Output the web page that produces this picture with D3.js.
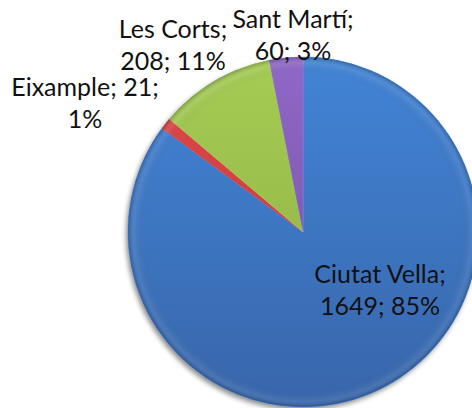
<!DOCTYPE html>
<html>
<head>
<meta charset="utf-8">
<script src="https://cdn.jsdelivr.net/npm/d3@7"></script>
<style>
  html, body { margin: 0; padding: 0; background: #fff; }
  svg { display: block; }
  text { font-family: Lato, "Open Sans", sans-serif; fill: #111; }
</style>
</head>
<body>
<svg width="472" height="408"></svg>
<script>
// data
var districts = ["Ciutat Vella", "Eixample", "Les Corts", "Sant Martí"];
var counts = [1649, 21, 208, 60];
var percents = ["85%", "1%", "11%", "3%"];
var topColors = ["#4284d6", "#e04848", "#a6cc55", "#9068c8"];
var bottomColors = ["#3866ab", "#b83a36", "#8aad3f", "#6f4d9a"];

var width = 472, height = 408;
var cx = 303, cy = 232, radius = 175;

var svg = d3.select("svg");
var defs = svg.append("defs");

// vertical shading for each slice (coords relative to pie centre)
districts.forEach(function(d, i) {
  var g = defs.append("linearGradient")
    .attr("id", "grad" + i)
    .attr("gradientUnits", "userSpaceOnUse")
    .attr("x1", 0).attr("y1", -radius)
    .attr("x2", 0).attr("y2", radius);
  g.append("stop").attr("offset", "0%").attr("stop-color", topColors[i]);
  g.append("stop").attr("offset", "100%").attr("stop-color", bottomColors[i]);
});

// darker rim like the excel bevel
var rim = defs.append("radialGradient")
  .attr("id", "rim")
  .attr("gradientUnits", "userSpaceOnUse")
  .attr("cx", 0).attr("cy", 0).attr("r", radius);
rim.append("stop").attr("offset", "0.9").attr("stop-color", "#000").attr("stop-opacity", 0);
rim.append("stop").attr("offset", "0.965").attr("stop-color", "#fff").attr("stop-opacity", 0.08);
rim.append("stop").attr("offset", "1").attr("stop-color", "#000").attr("stop-opacity", 0.22);

var shadow = defs.append("filter").attr("id", "shadow")
  .attr("x", "-20%").attr("y", "-20%").attr("width", "140%").attr("height", "140%");
shadow.append("feGaussianBlur").attr("in", "SourceAlpha").attr("stdDeviation", 2.5);
shadow.append("feOffset").attr("dx", -2).attr("dy", 3).attr("result", "b");
shadow.append("feComponentTransfer").append("feFuncA").attr("type", "linear").attr("slope", 0.45);
var merge = shadow.append("feMerge");
merge.append("feMergeNode");
merge.append("feMergeNode").attr("in", "SourceGraphic");

var rows = districts.map(function(d, i) {
  return { name: d, value: counts[i], pct: percents[i], idx: i };
});

var pie = d3.pie().sort(null).value(function(d) { return d.value; });
var arcs = pie(rows);
var arc = d3.arc().innerRadius(0).outerRadius(radius);

var g = svg.append("g").attr("transform", "translate(" + cx + "," + cy + ")");

g.append("circle").attr("r", radius).attr("fill", "#3866ab")
  .attr("filter", "url(#shadow)");

g.selectAll(".slice")
  .data(arcs)
  .enter().append("path")
  .attr("class", "slice")
  .attr("d", arc)
  .attr("fill", function(d) { return "url(#grad" + d.data.idx + ")"; })
  .attr("stroke", function(d) { return d3.color(topColors[d.data.idx]).brighter(0.4); })
  .attr("stroke-width", 0.8)
  .attr("stroke-opacity", 0.6);

g.append("circle").attr("r", radius).attr("fill", "url(#rim)");

// label positions (line centres, first baseline)
var labelPos = [
  { x: 380, y: 283 },
  { x: 85, y: 96 },
  { x: 173, y: 38 },
  { x: 293, y: 28 }
];
var lines = [
  ["Ciutat Vella;", "1649; 85%"],
  ["Eixample; 21;", "1%"],
  ["Les Corts;", "208; 11%"],
  ["Sant Martí;", "60; 3%"]
];

rows.forEach(function(r, i) {
  var t = svg.append("text")
    .attr("text-anchor", "middle")
    .attr("font-size", 25);
  lines[i].forEach(function(s, j) {
    t.append("tspan")
      .attr("x", labelPos[i].x)
      .attr("y", labelPos[i].y + j * 31.5)
      .text(s);
  });
});
</script>
</body>
</html>
